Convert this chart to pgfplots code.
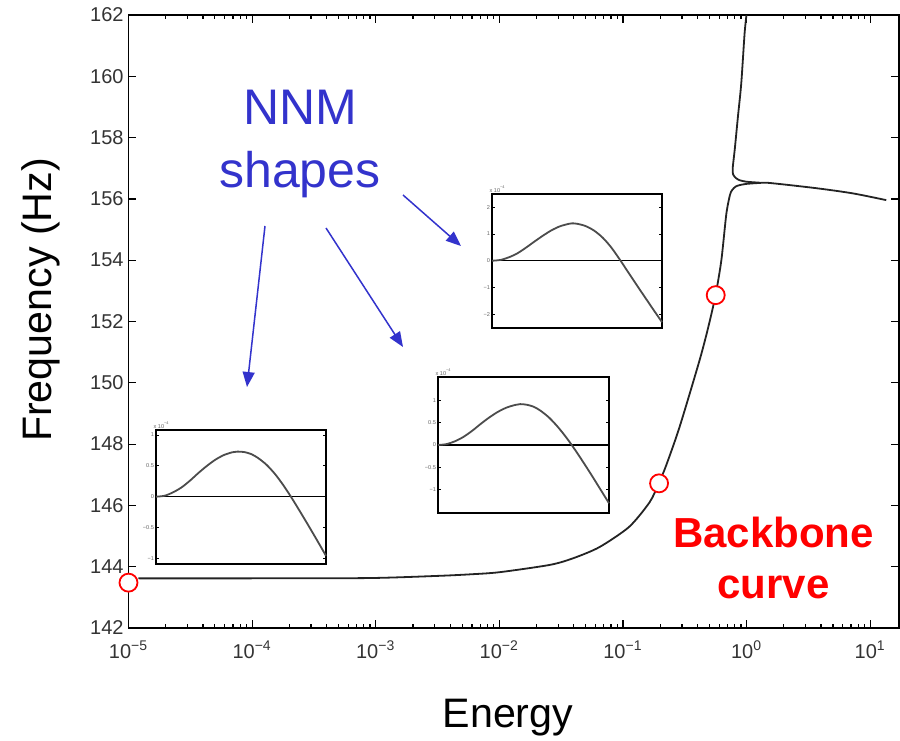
\documentclass[border=0pt]{standalone}
\usepackage{pgfplots}
\pgfplotsset{compat=1.18}
\usepackage{fontspec}
\setmainfont{Liberation Sans}
\usetikzlibrary{arrows.meta}
\definecolor{nnmblue}{RGB}{51,51,204}
\definecolor{curvegray}{RGB}{35,35,35}
\pgfplotsset{
 inset/.style={
   scale only axis, width=85pt, height=67pt, anchor=south west,
   xmin=0, xmax=1, xtick=\empty,
   axis line style={line width=0.8pt},
   tick align=inside, ytick pos=both, major tick length=1.3pt,
   tick style={line width=0.4pt, black},
   yticklabel style={font=\fontsize{2.8}{3}\selectfont, text=black!60, inner sep=0.8pt},
   axis background/.style={fill=white},
   clip=false,
 }
}
\begin{document}
\begin{tikzpicture}
\useasboundingbox (0,0) rectangle (450pt,370pt);
\begin{axis}[
 name=main, scale only axis, width=385.25pt, height=306.5pt,
 anchor=south west, at={(64.25pt,56pt)},
 xmode=log, xmin=1e-5, xmax=17.1, ymin=142, ymax=162,
 xtick={1e-5,1e-4,1e-3,1e-2,1e-1,1,10},
 xticklabels={10\textsuperscript{−5},10\textsuperscript{−4},10\textsuperscript{−3},10\textsuperscript{−2},10\textsuperscript{−1},10\textsuperscript{0},10\textsuperscript{1}},
 minor xtick={2e-5,3e-5,4e-5,5e-5,6e-5,7e-5,8e-5,9e-5,
   2e-4,3e-4,4e-4,5e-4,6e-4,7e-4,8e-4,9e-4,
   2e-3,3e-3,4e-3,5e-3,6e-3,7e-3,8e-3,9e-3,
   2e-2,3e-2,4e-2,5e-2,6e-2,7e-2,8e-2,9e-2,
   2e-1,3e-1,4e-1,5e-1,6e-1,7e-1,8e-1,9e-1,
   2,3,4,5,6,7,8,9},
 ytick={142,144,...,162},
 tick align=inside, major tick length=4pt, minor tick length=2.2pt,
 tick style={black, line width=0.6pt},
 axis line style={line width=0.75pt},
 /pgf/number format/assume math mode=true,
 yticklabel style={font=\fontsize{10}{12}\selectfont, text=black!80, anchor=east, inner sep=0pt, xshift=-2.25pt},
 xticklabel style={font=\fontsize{10}{12}\selectfont, text=black!80, anchor=base, inner sep=0pt, yshift=-15pt},
 xlabel={Energy}, ylabel={Frequency (Hz)},
 xlabel style={at={(axis description cs:0.4925,-0.1631)}, anchor=base, font=\fontsize{20.6}{24}\selectfont},
 ylabel style={at={(axis description cs:-0.0993,0.535)}, anchor=base, font=\fontsize{20.6}{24}\selectfont},
]
% lower branch of the backbone curve
\addplot[curvegray, line width=0.9pt, smooth, tension=0.45] coordinates {
 (1.202e-5,143.62) (1e-4,143.62) (8.91e-4,143.63) (3.162e-3,143.70) (5.754e-3,143.75)
 (0.01,143.82) (0.0257,144.06) (0.03981,144.28) (0.06457,144.64) (0.1122,145.30)
 (0.1641,146.10) (0.1941,146.70) (0.2234,147.30) (0.2871,148.56) (0.4169,150.74)
 (0.4909,151.83) (0.561,152.86) (0.6252,154.00) (0.6855,155.50) (0.7328,156.12)
 (0.7621,156.28) (0.8128,156.40) (0.879,156.45) (1.0,156.49) (1.274,156.52)
 (1.535,156.52) (3.656,156.35) (7.244,156.18) (13.49,155.96)
};
% upper branch
\addplot[curvegray, line width=0.9pt, smooth, tension=0.45] coordinates {
 (0.998,162.0) (0.9638,161.4) (0.9057,159.77) (0.8511,158.68) (0.8017,157.6)
 (0.772,157.0) (0.778,156.80) (0.82,156.68) (0.879,156.61) (1.0,156.56) (1.274,156.53)
};
% NNM points
\addplot[only marks, mark=*, mark size=4.5pt, mark options={fill=white, draw=red, line width=0.9pt}] coordinates {
 (1e-5,143.48) (0.1959,146.72) (0.5628,152.86)
};
\end{axis}

% inset 1
\begin{axis}[inset, at={(78pt,88pt)}, ymin=-1.09, ymax=1.08,
 ytick={-1,-0.5,0,0.5,1}, yticklabels={−1,−0.5,0,0.5,1}]
\addplot[black, line width=0.6pt] coordinates {(0,0) (1,0)};
\addplot[black!70, line width=0.9pt, smooth] coordinates {
 (0,0) (0.05,0.015) (0.1,0.07) (0.15,0.15) (0.2,0.26) (0.25,0.385) (0.3,0.50)
 (0.35,0.60) (0.4,0.675) (0.45,0.72) (0.48,0.73) (0.52,0.722) (0.56,0.69)
 (0.6,0.627) (0.65,0.517) (0.7,0.367) (0.75,0.182) (0.8,-0.028) (0.85,-0.253)
 (0.9,-0.483) (0.95,-0.718) (1,-0.958)};
\node[anchor=south west, font=\fontsize{2.8}{3}\selectfont, text=black!60, inner sep=0.3pt] at (rel axis cs:-0.02,1) {x 10\textsuperscript{−4}};
\end{axis}

% inset 2
\begin{axis}[inset, at={(246pt,206pt)}, ymin=-2.52, ymax=2.5,
 ytick={-2,-1,0,1,2}, yticklabels={−2,−1,0,1,2}]
\addplot[black, line width=0.6pt] coordinates {(0,0) (1,0)};
\addplot[black!70, line width=0.9pt, smooth] coordinates {
 (0,0) (0.05,0.03) (0.1,0.13) (0.15,0.28) (0.2,0.49) (0.25,0.72) (0.3,0.94)
 (0.35,1.14) (0.4,1.29) (0.45,1.38) (0.47,1.4) (0.5,1.385) (0.55,1.3)
 (0.6,1.13) (0.65,0.87) (0.7,0.51) (0.75,0.06) (0.8,-0.42) (0.85,-0.9)
 (0.9,-1.37) (0.95,-1.84) (1,-2.3)};
\node[anchor=south west, font=\fontsize{2.8}{3}\selectfont, text=black!60, inner sep=0.3pt] at (rel axis cs:-0.02,1) {x 10\textsuperscript{−4}};
\end{axis}

% inset 3
\begin{axis}[inset, at={(219pt,113.5pt)}, width=85.5pt, height=68pt, ymin=-1.53, ymax=1.53,
 ytick={-1,-0.5,0,0.5,1}, yticklabels={−1,−0.5,0,0.5,1}]
\addplot[black, line width=0.6pt] coordinates {(0,0) (1,0)};
\addplot[black!70, line width=0.9pt, smooth] coordinates {
 (0,0) (0.05,0.02) (0.1,0.085) (0.15,0.185) (0.2,0.32) (0.25,0.475) (0.3,0.62)
 (0.35,0.745) (0.4,0.84) (0.45,0.9) (0.48,0.92) (0.52,0.905) (0.56,0.86)
 (0.6,0.77) (0.65,0.615) (0.7,0.41) (0.75,0.17) (0.8,-0.1) (0.85,-0.39)
 (0.9,-0.69) (0.95,-1.0) (1,-1.31)};
\node[anchor=south west, font=\fontsize{2.8}{3}\selectfont, text=black!60, inner sep=0.3pt] at (rel axis cs:-0.02,1) {x 10\textsuperscript{−4}};
\end{axis}

% annotations (pixel-based coordinates, origin at top-left)
\begin{scope}[shift={(0pt,370pt)}, x=0.5pt, y=-0.5pt]
\node[anchor=base, text=nnmblue, font=\fontsize{25}{29}\selectfont, inner sep=0pt] at (300,125) {NNM};
\node[anchor=base, text=nnmblue, font=\fontsize{25}{29}\selectfont, inner sep=0pt] at (300,188) {shapes};
\node[anchor=base, text=red, font=\bfseries\fontsize{21}{25}\selectfont, inner sep=0pt] at (773.5,547) {Backbone};
\node[anchor=base, text=red, font=\bfseries\fontsize{21}{25}\selectfont, inner sep=0pt] at (773.5,598) {curve};
\draw[nnmblue, line width=0.75pt, -{Triangle[length=7.5pt,width=6pt]}] (265,226) -- (247,387);
\draw[nnmblue, line width=0.75pt, -{Triangle[length=7.5pt,width=6pt]}] (326,228) -- (403,347);
\draw[nnmblue, line width=0.75pt, -{Triangle[length=7.5pt,width=6pt]}] (403,195) -- (461,246);
\end{scope}
\end{tikzpicture}
\end{document}
